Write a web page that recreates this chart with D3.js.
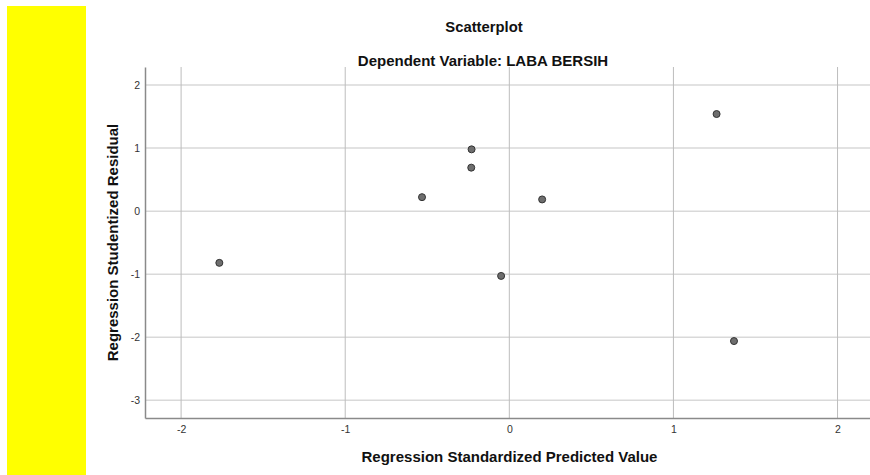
<!DOCTYPE html>
<html><head><meta charset="utf-8">
<script src="https://cdn.jsdelivr.net/npm/d3@7"></script>
<style>body{margin:0;background:#fff;} svg{display:block;}</style>
</head><body>
<svg id="c" width="870" height="475"></svg>
<script>
const title = "Scatterplot";
const subtitle = "Dependent Variable: LABA BERSIH";
const xLabel = "Regression Standardized Predicted Value";
const yLabel = "Regression Studentized Residual";
const predicted = [-1.767, -0.230, -0.232, -0.532, 0.200, -0.050, 1.263, 1.369];
const residual  = [-0.82, 0.98, 0.69, 0.222, 0.186, -1.027, 1.54, -2.06];
const xTicks = [-2, -1, 0, 1, 2];
const yTicks = [-3, -2, -1, 0, 1, 2];

const svg = d3.select("#c");
const font = "Arial, 'Liberation Sans', sans-serif";
svg.append("rect").attr("x",7).attr("y",6).attr("width",79).attr("height",469).attr("fill","#ffff00");

const L=145, R=872, T=67, B=418;
const x = d3.scaleLinear().domain([-2.22, 2.21]).range([L, R]);
const y = d3.scaleLinear().domain([-3.28, 2.286]).range([B, T]);

// horizontal gridlines
svg.append("g").selectAll("line").data(yTicks).join("line")
  .attr("x1",L).attr("x2",R).attr("y1",d=>y(d)).attr("y2",d=>y(d))
  .attr("stroke","#d9d9d9").attr("stroke-width",1.5);
// vertical gridlines
svg.append("g").selectAll("line").data(xTicks).join("line")
  .attr("y1",T).attr("y2",B).attr("x1",d=>x(d)).attr("x2",d=>x(d))
  .attr("stroke","#bdbdbd").attr("stroke-width",1);

// axes
const fmt = d => String(d);
const xAxis = d3.axisBottom(x).tickValues(xTicks).tickSize(0).tickPadding(8).tickFormat(fmt);
const yAxis = d3.axisLeft(y).tickValues(yTicks).tickSize(0).tickPadding(5).tickFormat(fmt);
const gx = svg.append("g").attr("transform",`translate(0,${B})`).call(xAxis);
const gy = svg.append("g").attr("transform",`translate(${L},0)`).call(yAxis);
[gx,gy].forEach(g=>{
  g.select(".domain").attr("stroke","#8a8a8a").attr("stroke-width",1.5);
  g.selectAll("text").attr("font-family",font).attr("font-size",10.5).attr("fill","#333");
});
gx.selectAll("text").attr("dy","0.71em");

// points
svg.append("g").selectAll("circle").data(predicted).join("circle")
  .attr("cx",(d)=>x(d)).attr("cy",(d,i)=>y(residual[i])).attr("r",3.5)
  .attr("fill","#6e6e6e").attr("stroke","#333").attr("stroke-width",1);

// titles
svg.append("text").attr("x",484).attr("y",32).attr("text-anchor","middle")
  .attr("font-family",font).attr("font-size",14.8).attr("font-weight","bold").attr("fill","#111").text(title);
svg.append("text").attr("x",483).attr("y",66).attr("text-anchor","middle")
  .attr("font-family",font).attr("font-size",15).attr("font-weight","bold").attr("fill","#111").text(subtitle);
svg.append("text").attr("x",509.5).attr("y",462).attr("text-anchor","middle")
  .attr("font-family",font).attr("font-size",15).attr("font-weight","bold").attr("fill","#111").text(xLabel);
svg.append("text").attr("transform",`translate(118,${(T+B)/2}) rotate(-90)`).attr("text-anchor","middle")
  .attr("font-family",font).attr("font-size",15).attr("font-weight","bold").attr("fill","#111").text(yLabel);
</script>
</body></html>
